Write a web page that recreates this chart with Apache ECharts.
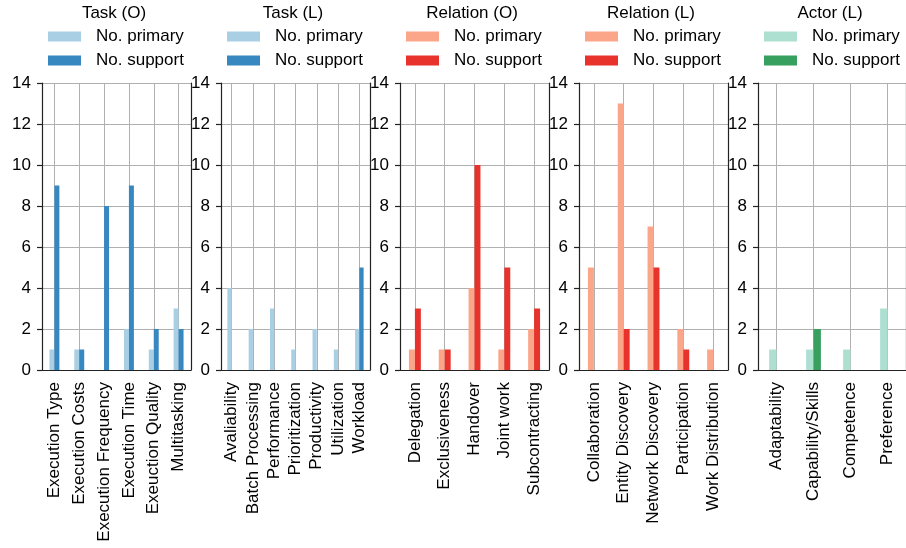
<!DOCTYPE html>
<html>
<head>
<meta charset="utf-8">
<script src="https://cdn.jsdelivr.net/npm/echarts@6/dist/echarts.min.js"></script>
<style>
  html, body { margin: 0; padding: 0; background: #fff; }
  #chart { width: 906px; height: 548px; }
</style>
</head>
<body>
<div id="chart"></div>
<script>
// panel titles
const panelTitles = ['Task (O)', 'Task (L)', 'Relation (O)', 'Relation (L)', 'Actor (L)'];

// categories per panel
const taskOCats = ['Execution Type', 'Execution Costs', 'Execution Frequency', 'Execution Time', 'Exeuction Quality', 'Multitasking'];
const taskLCats = ['Avaliability', 'Batch Processing', 'Performance', 'Prioritization', 'Productivity', 'Utilization', 'Workload'];
const relationOCats = ['Delegation', 'Exclusiveness', 'Handover', 'Joint work', 'Subcontracting'];
const relationLCats = ['Collaboration', 'Entity Discovery', 'Network Discovery', 'Participation', 'Work Distribution'];
const actorLCats = ['Adaptability', 'Capability/Skills', 'Competence', 'Preference'];

// values: No. primary / No. support
const taskOPrimary = [1, 1, 0, 2, 1, 3];
const taskOSupport = [9, 1, 8, 9, 2, 2];
const taskLPrimary = [4, 2, 3, 1, 2, 1, 2];
const taskLSupport = [0, 0, 0, 0, 0, 0, 5];
const relationOPrimary = [1, 1, 4, 1, 2];
const relationOSupport = [3, 1, 10, 5, 3];
const relationLPrimary = [5, 13, 7, 2, 1];
const relationLSupport = [0, 2, 5, 1, 0];
const actorLPrimary = [1, 1, 1, 3];
const actorLSupport = [0, 2, 0, 0];

// y tick labels
const yTicks = [0, 2, 4, 6, 8, 10, 12, 14];

const panels = [
  { cats: taskOCats, primary: taskOPrimary, support: taskOSupport, colors: ['#a9cfe5', '#3787c0'] },
  { cats: taskLCats, primary: taskLPrimary, support: taskLSupport, colors: ['#a9cfe5', '#3787c0'] },
  { cats: relationOCats, primary: relationOPrimary, support: relationOSupport, colors: ['#fca689', '#e7332c'] },
  { cats: relationLCats, primary: relationLPrimary, support: relationLSupport, colors: ['#fca689', '#e7332c'] },
  { cats: actorLCats, primary: actorLPrimary, support: actorLSupport, colors: ['#aee0d1', '#37a05f'] }
];

const FONT = 'Liberation Sans, Arial, Helvetica, sans-serif';
const FS = 17;
const gridLefts = [42, 221, 400, 579, 758];
const gridWidth = 149;
const gridTop = 83;
const gridHeight = 287;

const grid = [], xAxis = [], yAxis = [], series = [], legend = [], title = [];

panels.forEach((p, i) => {
  grid.push({ left: gridLefts[i], top: gridTop, width: gridWidth, height: gridHeight });

  xAxis.push({
    type: 'category',
    gridIndex: i,
    data: p.cats,
    boundaryGap: true,
    axisLine: { lineStyle: { color: '#222', width: 1.2 } },
    axisTick: { alignWithLabel: true, length: 5, lineStyle: { color: '#222', width: 1.2 } },
    axisLabel: { rotate: 90, interval: 0, margin: 12, fontSize: FS, color: '#000', fontFamily: FONT },
    splitLine: { show: true, alignWithLabel: true, lineStyle: { color: '#b0b0b0', width: 1 } }
  });

  yAxis.push({
    type: 'value',
    gridIndex: i,
    min: yTicks[0],
    max: yTicks[yTicks.length - 1],
    interval: 2,
    axisLine: { show: true, lineStyle: { color: '#222', width: 1.2 } },
    axisTick: { show: true, length: 5, lineStyle: { color: '#222', width: 1.2 } },
    axisLabel: { margin: 11, fontSize: FS, color: '#000', fontFamily: FONT },
    splitLine: { show: true, lineStyle: { color: '#b0b0b0', width: 1 } }
  });
  // right spine
  yAxis.push({
    type: 'value',
    gridIndex: i,
    position: 'right',
    min: yTicks[0],
    max: yTicks[yTicks.length - 1],
    interval: 2,
    axisLine: { show: true, lineStyle: { color: '#222', width: 1.2 } },
    axisTick: { show: false },
    axisLabel: { show: false },
    splitLine: { show: false }
  });

  const names = ['No. primary|' + i, 'No. support|' + i];
  [p.primary, p.support].forEach((vals, k) => {
    series.push({
      type: 'bar',
      name: names[k],
      xAxisIndex: i,
      yAxisIndex: 2 * i,
      data: vals,
      barWidth: '20%',
      barGap: '0%',
      itemStyle: { color: p.colors[k] },
      animation: false
    });
  });

  legend.push({
    data: names,
    orient: 'vertical',
    left: gridLefts[i] + 6,
    top: 28,
    padding: 0,
    itemWidth: 33,
    itemHeight: 10,
    itemGap: 7,
    itemTextGap: 5,
    icon: 'rect',
    formatter: n => n.split('|')[0],
    textStyle: { fontSize: FS, color: '#000', fontFamily: FONT, lineHeight: 17, padding: [0, 0, 0, 10] }
  });

  title.push({
    text: panelTitles[i],
    left: gridLefts[i] + 72,
    top: 5,
    padding: 0,
    textAlign: 'center',
    textStyle: { fontSize: FS, fontWeight: 'normal', color: '#000', fontFamily: FONT }
  });
});

const chart = echarts.init(document.getElementById('chart'), null, { renderer: 'canvas' });
chart.setOption({
  animation: false,
  backgroundColor: '#fff',
  title, legend, grid, xAxis, yAxis, series
});
</script>
</body>
</html>
